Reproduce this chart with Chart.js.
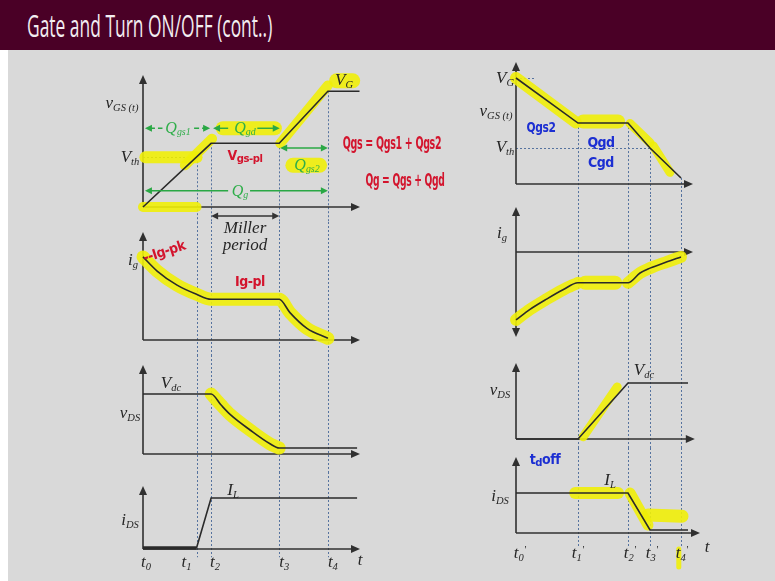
<!DOCTYPE html>
<html lang="en">
<head>
<meta charset="utf-8">
<title>Gate and Turn ON/OFF (cont..)</title>
<script src="https://cdn.jsdelivr.net/npm/chart.js@4.4.1/dist/chart.umd.min.js"></script>
<style>
  html, body { margin: 0; padding: 0; }
  body { width: 775px; height: 581px; position: relative; overflow: hidden; background: #d9d9d9; }
  #bandeau { position: absolute; left: 0; top: 0; width: 775px; height: 50px; background: #4a0026; }
  #titre { position: absolute; left: 27px; top: 4px; font: 31px "Open Sans", sans-serif; color: #f2edf0;
           white-space: nowrap; transform-origin: 0 0; }
  #marge { position: absolute; left: 0; top: 50px; width: 8px; height: 531px; background: #fff; }
  canvas { position: absolute; z-index: 1; }
  .et { position: absolute; z-index: 2; transform: translate(-50%, -50%); white-space: nowrap; line-height: 1;
        font: italic 17px "Liberation Serif", "DejaVu Serif", serif; color: #262626; }
  .et sub { font-size: 0.62em; vertical-align: -0.3em; }
  .et sup { font-size: 0.62em; vertical-align: 0.5em; }
  .vert { color: #2fae4a; font-size: 16px; }
  .main { font: bold 14px "Liberation Sans Narrow", "DejaVu Sans Condensed", sans-serif; letter-spacing: -0.5px; }
  .main sub { font-size: 0.8em; vertical-align: -0.25em; }
  .grand { font-size: 17px; }
  .rouge { color: #d3142d; }
  .bleu { color: #1c2fd2; }
</style>
</head>
<body>
<div id="bandeau"><div id="titre">Gate and Turn ON/OFF (cont..)</div></div>
<div id="marge"></div>
<script>
// Instants de commutation (unités de temps arbitraires)
const tempsOn = [0, 1.1, 1.4, 2.8, 3.8];
const tempsOff = [0, 1.55, 2.8, 3.35, 4.125];
const finTempsOn = 4.46;
const finTempsOff = 4.425;
const etiquettesOn = ['t<sub>0</sub>', 't<sub>1</sub>', 't<sub>2</sub>', 't<sub>3</sub>', 't<sub>4</sub>'];
const etiquettesOff = etiquettesOn.map(s => s + "<sup>'</sup>");

// Mise en conduction (valeurs normalisées)
const vgsOnT = [0, 1.4, 2.8, 3.8, 4.45];
const vgsOnV = [0, 0.55, 0.55, 1, 1];
const vthOn = 0.43;
const igOnT = [0, 0.29, 0.7, 1.1, 1.4, 2.8, 3.02, 3.37, 3.8];
const igOnV = [1, 0.83, 0.66, 0.55, 0.49, 0.49, 0.33, 0.14, 0.02];
const vdsOnT = [0, 1.4, 1.6, 1.79, 2.2, 2.61, 2.8, 4.4];
const vdsOnV = [1, 1, 0.82, 0.66, 0.4, 0.17, 0.1, 0.1];
const idsOnT = [0, 1.1, 1.4, 4.4];
const idsOnV = [0.02, 0.02, 1, 1];

// Blocage
const vgsOffT = [0, 1.55, 2.8, 3.35, 4.125];
const vgsOffV = [1, 0.575, 0.575, 0.34, 0.057];
const vthOff = 0.34;
const igOffT = [0, 0.35, 0.775, 1.175, 1.55, 2.8, 3.1, 3.35, 3.775, 4.125];
const igOffV = [-0.97, -0.82, -0.67, -0.54, -0.44, -0.44, -0.3, -0.23, -0.14, -0.07];
const vdsOffT = [0, 1.55, 2.8, 4.3];
const vdsOffV = [0, 0, 1, 1];
const idsOffT = [0, 2.8, 3.35, 4.3];
const idsOffV = [1, 1, 0.075, 0.075];

// Coups de surligneur (temps, valeur)
const surligneVgsOn = [
  [[0.05, 0.43], [1.1, 0.43]],
  [[0, 0], [1.1, 0]],
  [[0.86, 0.36], [1.42, 0.59]],
  [[2.82, 0.55], [3.8, 1.05]],
  [[3.98, 1.09], [4.31, 1.09]],
  [[1.64, 0.68], [2.71, 0.68]],
  [[3.08, 0.36], [3.63, 0.36]]
];
const surligneVgsOff = [
  [[0, 1.0], [1.5, 0.58]],
  [[1.68, 0.59], [2.55, 0.59]],
  [[2.85, 0.57], [3.35, 0.39]],
  [[3.43, 0.36], [3.85, 0.11]]
];
const surlignePlateauIgOff = [[1.73, -0.44], [2.48, -0.44]];
const surligneVdsOff = [[1.68, 0.04], [2.53, 0.93]];
const surligneIdsOff = [
  [[1.48, 1], [2.55, 1]],
  [[2.85, 1.0], [3.3, 0.2]],
  [[3.3, 0.45], [4.15, 0.42]],
  [[4.07, -0.4], [4.07, -0.85]]
];

const JAUNE = 'rgba(240, 238, 8, 0.9)';
const TRAIT = '#2a2a2a';
const POINTILLE = '#56739f';
const VERT = '#2aa845';

function pts(T, V) { return T.map((t, i) => ({ x: t, y: V[i] })); }
function paires(P) { return P.map(([x, y]) => ({ x, y })); }

function courbe(data, lisse, extra) {
  return Object.assign({
    data, borderColor: TRAIT, borderWidth: 1.6, pointRadius: 0, tension: 0, fill: false, clip: false, order: 0,
    cubicInterpolationMode: lisse ? 'monotone' : 'default'
  }, extra || {});
}
function surligne(data, epaisseur, lisse) {
  return {
    data, borderColor: JAUNE, borderWidth: epaisseur, borderCapStyle: 'round', pointRadius: 0, tension: 0,
    fill: false, clip: false, order: 1, cubicInterpolationMode: lisse ? 'monotone' : 'default'
  };
}

function pointe(ctx, x, y, sens, long, demi) {
  long = long || 9; demi = demi || 4;
  ctx.beginPath();
  if (sens === 'droite') { ctx.moveTo(x, y); ctx.lineTo(x - long, y - demi); ctx.lineTo(x - long, y + demi); }
  if (sens === 'gauche') { ctx.moveTo(x, y); ctx.lineTo(x + long, y - demi); ctx.lineTo(x + long, y + demi); }
  if (sens === 'haut') { ctx.moveTo(x, y); ctx.lineTo(x - demi, y + long); ctx.lineTo(x + demi, y + long); }
  if (sens === 'bas') { ctx.moveTo(x, y); ctx.lineTo(x - demi, y - long); ctx.lineTo(x + demi, y - long); }
  ctx.closePath();
  ctx.fill();
}

function segment(ctx, x0, y0, x1, y1) {
  ctx.beginPath(); ctx.moveTo(x0, y0); ctx.lineTo(x1, y1); ctx.stroke();
}

// Axes fléchés, repères pointillés et flèches de charge pour un panneau
function schema(cfg) {
  return {
    id: 'schema',
    beforeDatasetsDraw(chart) {
      const { ctx, chartArea: zone, scales: { x, y } } = chart;
      ctx.save();
      ctx.strokeStyle = POINTILLE;
      ctx.lineWidth = 1;
      ctx.setLineDash([2, 2]);
      cfg.instants.forEach((t, i) => {
        if (i === 0) return;
        const px = Math.round(x.getPixelForValue(t)) + 0.5;
        const haut = cfg.departs ? y.getPixelForValue(cfg.departs[i - 1]) : 0;
        const bas = cfg.arret !== undefined ? y.getPixelForValue(cfg.arret) : chart.height;
        segment(ctx, px, haut, px, bas);
      });
      (cfg.niveaux || []).forEach(n => {
        ctx.strokeStyle = n.couleur || POINTILLE;
        const py = Math.round(y.getPixelForValue(n.v)) + 0.5;
        segment(ctx, x.getPixelForValue(0), py, x.getPixelForValue(n.jusqua), py);
      });

      ctx.setLineDash([]);
      ctx.strokeStyle = ctx.fillStyle = '#303030';
      ctx.lineWidth = 1.6;
      const ox = x.getPixelForValue(0);
      const oy = y.getPixelForValue(0);
      const fx = x.getPixelForValue(cfg.finAxe || x.max);
      segment(ctx, ox, oy, fx - 6, oy);
      pointe(ctx, fx, oy, 'droite');
      const basAxe = cfg.flecheBas ? zone.bottom - 6 : oy;
      segment(ctx, ox, basAxe, ox, zone.top + 6);
      pointe(ctx, ox, zone.top, 'haut');
      if (cfg.flecheBas) pointe(ctx, ox, zone.bottom, 'bas');
      ctx.restore();
    },
    afterDatasetsDraw(chart) {
      if (!cfg.fleches) return;
      const { ctx, scales: { x, y } } = chart;
      ctx.save();
      cfg.fleches.forEach(f => {
        ctx.strokeStyle = ctx.fillStyle = f.couleur;
        ctx.lineWidth = 1.4;
        ctx.setLineDash(f.tirets ? [5, 3] : []);
        const py = y.getPixelForValue(f.v);
        const x0 = x.getPixelForValue(f.de), x1 = x.getPixelForValue(f.a);
        if (f.trou) {
          segment(ctx, x0 + 5, py, x.getPixelForValue(f.trou[0]), py);
          segment(ctx, x.getPixelForValue(f.trou[1]), py, x1 - 5, py);
        } else {
          segment(ctx, x0 + 5, py, x1 - 5, py);
        }
        ctx.setLineDash([]);
        pointe(ctx, x0, py, 'gauche', 7, 3.5);
        pointe(ctx, x1, py, 'droite', 7, 3.5);
      });
      ctx.restore();
    }
  };
}

function creerPanneau(boite, zone, xMax, yMin, yMax, datasets, cfg) {
  const cv = document.createElement('canvas');
  cv.width = boite.w;
  cv.height = boite.h;
  cv.style.left = boite.x + 'px';
  cv.style.top = boite.y + 'px';
  document.body.appendChild(cv);
  const chart = new Chart(cv, {
    type: 'line',
    data: { datasets },
    options: {
      responsive: false,
      animation: false,
      events: [],
      layout: {
        padding: {
          left: zone.l - boite.x, right: boite.x + boite.w - zone.r,
          top: zone.t - boite.y, bottom: boite.y + boite.h - zone.b
        }
      },
      scales: {
        x: { type: 'linear', display: false, min: 0, max: xMax },
        y: { type: 'linear', display: false, min: yMin, max: yMax }
      },
      plugins: { legend: { display: false }, tooltip: { enabled: false } }
    },
    plugins: [schema(cfg)]
  });
  chart.boite = boite;
  return chart;
}

function et(html, x, y, classe, extra) {
  const d = document.createElement('div');
  d.className = 'et' + (classe ? ' ' + classe : '');
  d.innerHTML = html;
  d.style.left = x + 'px';
  d.style.top = y + 'px';
  if (extra) d.style.transform = 'translate(-50%, -50%) ' + extra;
  document.body.appendChild(d);
  return d;
}

// ---- Colonne de gauche : mise en conduction ----
const colG = { x: 95, w: 280 };
const gauche = { l: 143, r: 360 };

creerPanneau({ x: colG.x, y: 55, w: colG.w, h: 167 }, { ...gauche, t: 75, b: 207 }, finTempsOn, 0, 1.14, [
  courbe(pts(vgsOnT, vgsOnV)),
  ...surligneVgsOn.map((s, i) => surligne(paires(s), [12, 10, 10, 10, 15, 14, 15][i]))
], {
  instants: tempsOn,
  departs: [vthOn, vgsOnV[1], vgsOnV[2], vgsOnV[3]],
  niveaux: [{ v: vthOn, jusqua: tempsOn[1], couleur: '#3b4660' }],
  fleches: [
    { de: 0.04, a: 1.38, v: 0.68, trou: [0.4, 1.05], couleur: VERT, tirets: true },
    { de: 1.44, a: 2.81, v: 0.68, trou: [1.75, 2.35], couleur: VERT },
    { de: 2.82, a: 3.8, v: 0.51, couleur: VERT },
    { de: 0.04, a: 3.8, v: 0.14, trou: [1.75, 2.2], couleur: VERT },
    { de: tempsOn[2], a: tempsOn[3], v: -0.078, couleur: '#333' }
  ]
});

creerPanneau({ x: colG.x, y: 222, w: colG.w, h: 133 }, { ...gauche, t: 232, b: 340 }, finTempsOn, 0, 1.3, [
  courbe(pts(igOnT, igOnV), true),
  surligne(pts(igOnT, igOnV), 13, true)
], { instants: tempsOn });

creerPanneau({ x: colG.x, y: 355, w: colG.w, h: 117 }, { ...gauche, t: 365, b: 454 }, finTempsOn, 0, 1.483, [
  courbe(pts(vdsOnT, vdsOnV), true),
  surligne(pts(vdsOnT.slice(1, 7), vdsOnV.slice(1, 7)), 13, true)
], { instants: tempsOn });

const basGauche = creerPanneau({ x: colG.x, y: 472, w: colG.w, h: 103 }, { ...gauche, t: 486, b: 549 }, finTempsOn, 0, 1.235, [
  courbe(pts(idsOnT, idsOnV), false, { segment: { borderWidth: c => c.p0DataIndex === 0 ? 3.5 : 1.6 } })
], { instants: tempsOn, arret: -0.16 });

// ---- Colonne de droite : blocage ----
const colD = { x: 470, w: 250 };
const droite = { l: 516, r: 693 };

creerPanneau({ x: colD.x, y: 50, w: colD.w, h: 145 }, { ...droite, t: 62, b: 184 }, finTempsOff, 0, 1.151, [
  courbe(pts(vgsOffT, vgsOffV)),
  ...surligneVgsOff.map((s, i) => surligne(paires(s), [12, 14, 9, 9][i]))
], {
  instants: tempsOff,
  departs: vgsOffV.slice(1),
  niveaux: [{ v: vgsOffV[0], jusqua: 0.48 }, { v: vthOff, jusqua: tempsOff[3] }]
});

creerPanneau({ x: colD.x, y: 195, w: colD.w, h: 155 }, { ...droite, t: 207, b: 337 }, finTempsOff, -1.214, 0.643, [
  courbe(pts(igOffT, igOffV), true),
  surligne(pts(igOffT.slice(0, 5), igOffV.slice(0, 5)), 12, true),
  surligne(paires(surlignePlateauIgOff), 14),
  surligne(pts(igOffT.slice(5), igOffV.slice(5)), 12, true)
], { instants: tempsOff, flecheBas: true });

creerPanneau({ x: colD.x, y: 350, w: colD.w, h: 98 }, { ...droite, t: 363, b: 439 }, finTempsOff, 0, 1.357, [
  courbe(pts(vdsOffT, vdsOffV)),
  surligne(paires(surligneVdsOff), 9)
], { instants: tempsOff, finAxe: 4.47 });

const basDroite = creerPanneau({ x: colD.x, y: 448, w: colD.w, h: 127 }, { ...droite, t: 457, b: 533 }, finTempsOff, 0, 1.9, [
  courbe(pts(idsOffT, idsOffV)),
  ...surligneIdsOff.map((s, i) => surligne(paires(s), [12, 11, 13, 5][i]))
], { instants: tempsOff, finAxe: 4.6, arret: -0.33 });

// ---- Étiquettes des instants ----
[3, -10, 4, 5, 5].forEach((dx, i) => {
  const px = basGauche.boite.x + basGauche.scales.x.getPixelForValue(tempsOn[i]) + dx;
  et(etiquettesOn[i], px, 562);
});
et('t', 360, 560);
[4, 0, 2, 2, 1].forEach((dx, i) => {
  const px = basDroite.boite.x + basDroite.scales.x.getPixelForValue(tempsOff[i]) + dx;
  et(etiquettesOff[i], px, 553);
});
et('t', 707, 547);

// ---- Grandeurs, colonne de gauche ----
et('v<sub>GS (t)</sub>', 122, 103);
et('V<sub>th</sub>', 130, 157);
et('V<sub>G</sub>', 344, 80);
et('Q<sub>gs1</sub>', 178, 128, 'vert');
et('Q<sub>gd</sub>', 245, 128, 'vert');
et('Q<sub>gs2</sub>', 307, 165, 'vert');
et('Q<sub>g</sub>', 240, 191, 'vert');
et('Miller', 245, 228);
et('period', 245, 245);
et('i<sub>g</sub>', 133, 260);
et('V<sub>dc</sub>', 171, 383);
et('v<sub>DS</sub>', 130, 413);
et('I<sub>L</sub>', 233, 490);
et('i<sub>DS</sub>', 130, 520);

// annotations manuscrites
et('V<sub>gs-pl</sub>', 245, 156, 'main rouge');
et('Qgs = Qgs1 + Qgs2', 392, 143, 'main grand rouge', 'scaleX(0.62)');
et('Qg = Qgs + Qgd', 405, 180, 'main grand rouge', 'scaleX(0.6)');
et('--Ig-pk', 164, 251, 'main rouge', 'rotate(-18deg)');
et('Ig-pl', 250, 281, 'main rouge');

// ---- Grandeurs, colonne de droite ----
et('V<sub>G</sub>', 505, 78);
et('v<sub>GS (t)</sub>', 496, 111);
et('V<sub>th</sub>', 505, 147);
et('i<sub>g</sub>', 502, 233);
et('v<sub>DS</sub>', 500, 390);
et('V<sub>dc</sub>', 644, 370);
et('i<sub>DS</sub>', 500, 496);
et('I<sub>L</sub>', 610, 480);

et('Qgs2', 541, 127, 'main bleu', 'scaleX(0.85)');
et('Qgd', 601, 142, 'main bleu');
et('Cgd', 601, 162, 'main bleu');
et('t<sub>d</sub>off', 545, 460, 'main bleu');

// Titre condensé à la largeur du bandeau
const titre = document.getElementById('titre');
titre.style.transform = 'scaleX(' + (245 / titre.offsetWidth).toFixed(3) + ')';
</script>
</body>
</html>
